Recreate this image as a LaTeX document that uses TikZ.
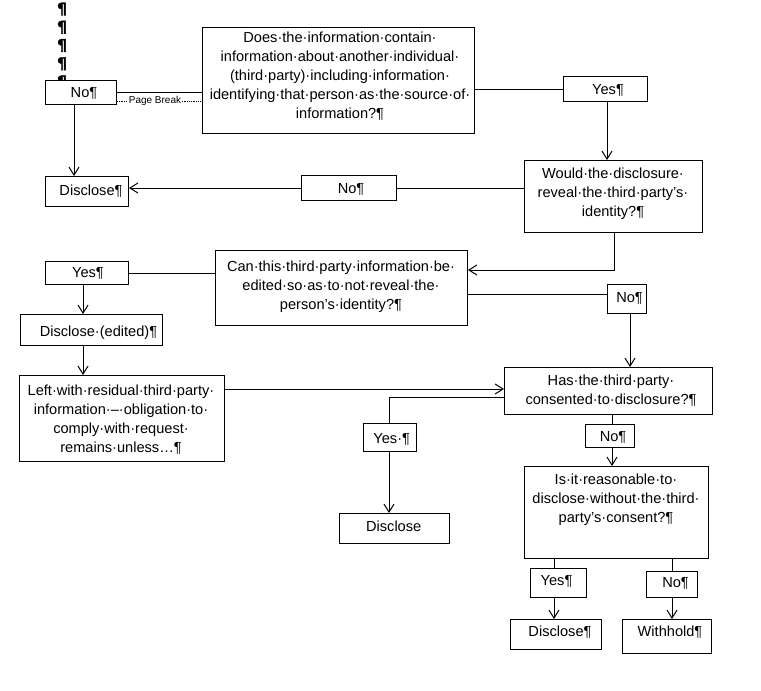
\documentclass[tikz,border=0pt]{standalone}
\usepackage{fontspec}
\setmainfont{Liberation Sans}
\newfontfamily\pilfont[BoldFeatures={FakeBold=2.5}]{DejaVu Sans}
\usetikzlibrary{arrows.meta}
\newcommand\fs{\fontsize{14.6}{19}\selectfont}
\begin{document}
\begin{tikzpicture}[x=1pt,y=-1pt,
  bx/.style={draw, fill=white, line width=1pt, inner sep=0pt, anchor=north west},
  tx/.style={font=\fs, align=center, inner sep=0pt},
  ln/.style={line width=1pt},
  arr/.style={line width=1pt, -{Straight Barb[length=8pt,width=10pt]}}]
\useasboundingbox (0,0) rectangle (761,691);
% pilcrows at top left
\node[font=\pilfont\fontsize{15.5}{18.2}\selectfont\bfseries, align=center, inner sep=0pt, anchor=north] (pil) at (62,2.5) {¶\\¶\\¶\\¶\\¶};
% boxes
\node[bx, minimum width=71pt, minimum height=24pt] (noA) at (45,80) {};
\node[bx, minimum width=272pt, minimum height=106pt] (main) at (202,27) {};
\node[bx, minimum width=84pt, minimum height=25pt] (yes1) at (563,76) {};
\node[bx, minimum width=178pt, minimum height=72pt] (would) at (524,160) {};
\node[bx, minimum width=95pt, minimum height=25pt] (no1) at (301,175) {};
\node[bx, minimum width=83pt, minimum height=30pt] (disc1) at (45,176) {};
\node[bx, minimum width=252pt, minimum height=75pt] (can) at (215,250) {};
\node[bx, minimum width=39pt, minimum height=29pt] (no2) at (607,284) {};
\node[bx, minimum width=83pt, minimum height=23pt] (yes2) at (45,261) {};
\node[bx, minimum width=142pt, minimum height=31pt] (dedit) at (20,314) {};
\node[bx, minimum width=205pt, minimum height=86pt] (left) at (19,375) {};
\node[bx, minimum width=208pt, minimum height=47pt] (has) at (504,367) {};
\node[bx, minimum width=53pt, minimum height=28pt] (yes3) at (363,423) {};
\node[bx, minimum width=110pt, minimum height=30pt] (disc3) at (339,513) {};
\node[bx, minimum width=49pt, minimum height=23pt] (no3) at (585,424) {};
\node[bx, minimum width=184pt, minimum height=92pt] (is) at (524,466) {};
\node[bx, minimum width=56pt, minimum height=29pt] (yes4) at (530,568) {};
\node[bx, minimum width=51pt, minimum height=26pt] (no4) at (646,571) {};
\node[bx, minimum width=91pt, minimum height=30pt] (disc4) at (510,619) {};
\node[bx, minimum width=89pt, minimum height=34pt] (with) at (622,619) {};
% texts
\node[tx, anchor=base] (tNoA) at (84,97) {No¶};
\node[tx] (tMain) at (340,75.8) {Does·the·information·contain·\\information·about·another·individual·\\(third·party)·including·information·\\identifying·that·person·as·the·source·of·\\information?¶};
\node[tx, anchor=base] (tYes1) at (608,94) {Yes¶};
\node[tx] (tWould) at (613,194) {Would·the·disclosure·\\reveal·the·third·party’s·\\identity?¶};
\node[tx, anchor=base] (tNo1) at (351,193) {No¶};
\node[tx, anchor=base] (tDisc1) at (91,195) {Disclose¶};
\node[tx] (tCan) at (341,286.6) {Can·this·third·party·information·be·\\edited·so·as·to·not·reveal·the·\\person’s·identity?¶};
\node[tx, anchor=base] (tNo2) at (629.5,302) {No¶};
\node[tx, anchor=base] (tYes2) at (88,277.7) {Yes¶};
\node[tx, anchor=base] (tDedit) at (98.5,336.4) {Disclose·(edited)¶};
\node[tx] (tLeft) at (121,419.2) {Left·with·residual·third·party·\\information·–·obligation·to·\\comply·with·request·\\remains·unless…¶};
\node[tx] (tHas) at (611,390.9) {Has·the·third·party·\\consented·to·disclosure?¶};
\node[tx, anchor=base] (tYes3) at (391.7,443) {Yes·¶};
\node[tx, anchor=base] (tDisc3) at (393.7,531) {Disclose};
\node[tx, anchor=base] (tNo3) at (613,441.7) {No¶};
\node[tx] (tIs) at (616,499.3) {Is·it·reasonable·to·\\disclose·without·the·third·\\party’s·consent?¶};
\node[tx, anchor=base] (tYes4) at (556.5,585.4) {Yes¶};
\node[tx, anchor=base] (tNo4) at (675.5,587.7) {No¶};
\node[tx, anchor=base] (tDisc4) at (560,636.4) {Disclose¶};
\node[tx, anchor=base] (tWith) at (670,636.4) {Withhold¶};
% connectors
\draw[ln] (noA.east) -- (noA.east -| main.west);
\draw[densely dotted, line width=0.8pt] (noA.east |- 0,101) -- (main.west |- 0,101);
\node[font=\fontsize{10}{12}\selectfont, fill=white, inner sep=1pt] (pb) at (155,101) {Page Break};
\draw[arr] (noA.south -| 74,0) -- (disc1.north -| 74,0);
\draw[ln] (yes1.west -| main.east) -- (yes1.west);
\draw[arr] (yes1.south -| 607,0) -- (would.north -| 607,0);
\draw[ln] (would.west |- 0,188) -- (no1.east |- 0,188);
\draw[arr] (no1.west |- 0,188) -- (disc1.east |- 0,188);
\draw[arr] (would.south -| 614,0) |- (can.east |- 0,270);
\draw[ln] (can.east |- 0,294) -- (no2.west |- 0,294);
\draw[arr] (no2.south -| 630,0) -- (has.north -| 630,0);
\draw[ln] (yes2.east) -- (yes2.east -| can.west);
\draw[arr] (yes2.south -| 83,0) -- (dedit.north -| 83,0);
\draw[arr] (dedit.south -| 83,0) -- (left.north -| 83,0);
\draw[arr] (left.east |- 0,389) -- (has.west |- 0,389);
\draw[ln] (has.west |- 0,397) -| (yes3.north -| 389,0);
\draw[arr] (yes3.south -| 389,0) -- (disc3.north -| 389,0);
\draw[ln] (has.south -| 612,0) -- (no3.north -| 612,0);
\draw[arr] (no3.south -| 612,0) -- (is.north -| 612,0);
\draw[ln] (is.south -| 554,0) -- (yes4.north -| 554,0);
\draw[arr] (yes4.south -| 554,0) -- (disc4.north -| 554,0);
\draw[ln] (is.south -| 672,0) -- (no4.north -| 672,0);
\draw[arr] (no4.south -| 672,0) -- (with.north -| 672,0);
\end{tikzpicture}
\end{document}
